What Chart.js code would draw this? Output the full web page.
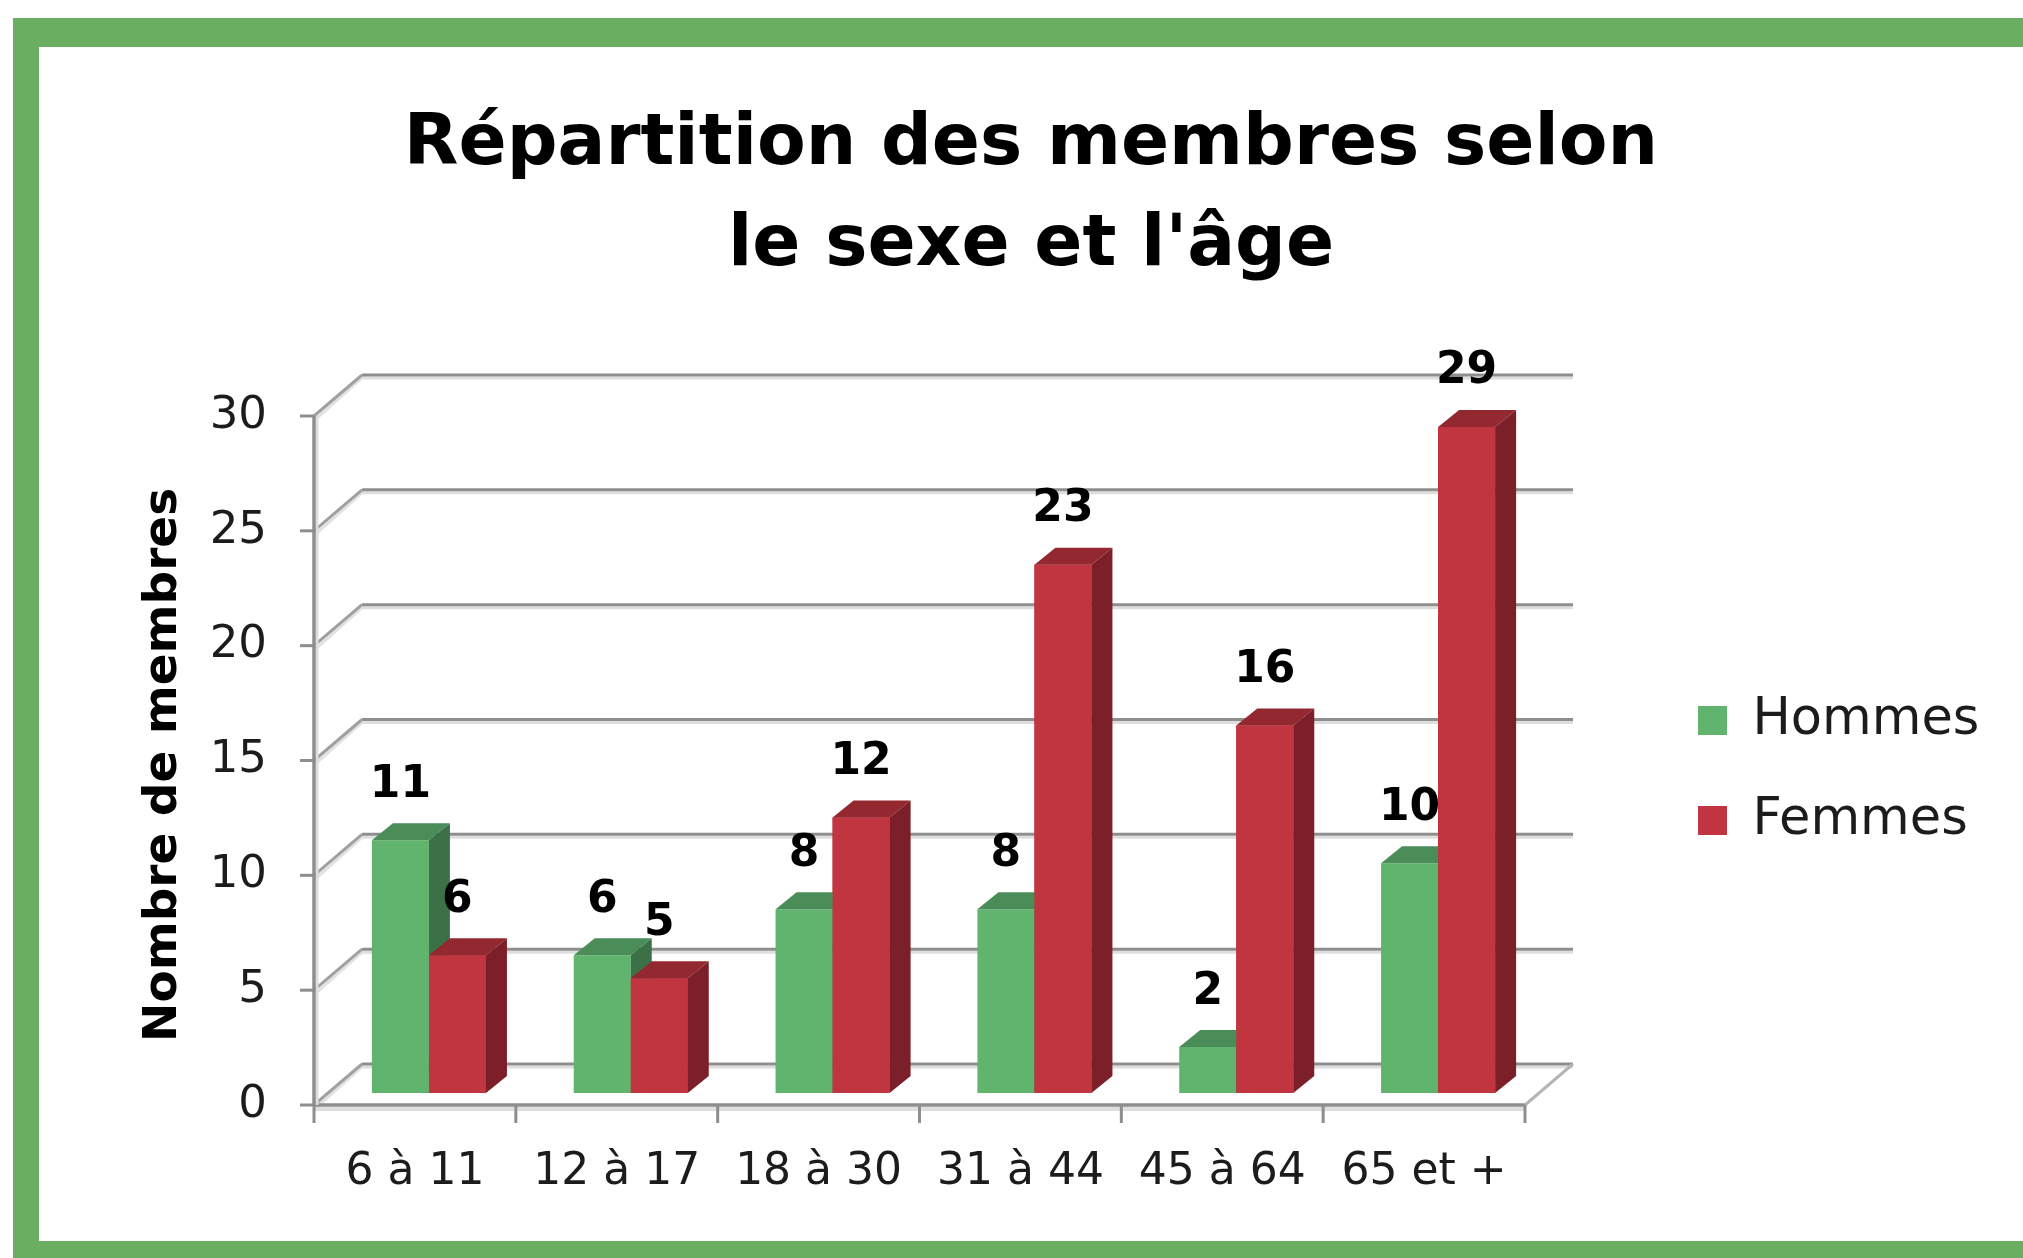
<!DOCTYPE html>
<html><head><meta charset="utf-8">
<script src="https://cdn.jsdelivr.net/npm/chart.js@4.4.0/dist/chart.umd.min.js"></script>
<style>
html,body{margin:0;padding:0;background:#fff;overflow:hidden;width:2023px;height:1258px;}
#frame{position:absolute;left:13px;top:18px;width:2100px;height:1300px;background:#69ae61;}
#box{position:absolute;left:39px;top:47px;width:1984px;height:1194px;background:#fff;}
</style></head><body>
<div id="frame"></div>
<div id="box"><canvas id="c"></canvas></div>
<script>
const categories = ['6 à 11', '12 à 17', '18 à 30', '31 à 44', '45 à 64', '65 et +'];
const hommes = [11, 6, 8, 8, 2, 10];
const femmes = [6, 5, 12, 23, 16, 29];
const seriesNames = ['Hommes', 'Femmes'];
const yTicks = [0, 5, 10, 15, 20, 25, 30];
const titleLines = ['Répartition des membres selon', "le sexe et l'âge"];
const yTitle = 'Nombre de membres';

const COL = {
  gFront: '#60b46e', gSide: '#3c7147', gTop: '#4a8d58',
  rFront: '#c0353f', rSide: '#7c1f28', rTop: '#932830'
};
const BD = {dx: 21, dy: -17};      // bar depth
const FRONT = {dx: -14, dy: 12};   // front plane offset from bar plane
const WALL = {dx: 48, dy: -41};    // depth of the back wall

Chart.defaults.font.family = '"DejaVu Sans", sans-serif';
Chart.defaults.color = '#1c1c1c';

const W = 1984, H = 1194;
const CA = {left: 289, right: 1500, top: 357, bottom: 1046};
const LEG_FONT = 51, LEG_PAD = 49, LEG_BOX = 29, SPACER = 110;
const mctx = document.createElement('canvas').getContext('2d');
mctx.font = LEG_FONT + 'px "DejaVu Sans"';
const tw = Math.max(...seriesNames.map(s => mctx.measureText(s).width));
const legendW = LEG_PAD + LEG_BOX + LEG_FONT / 2 + tw + 10;
const PAD = Math.max(0, W - CA.right - SPACER - legendW);
const TITLE_LH = 101, TITLE_PT = 48;
const YT_FONT = 47;

const threeD = {
  id: 'threeD',
  beforeDatasetsDraw(chart) {
    const {ctx, chartArea: a, scales: {y}} = chart;
    const xL = a.left + FRONT.dx, xR = a.right + FRONT.dx;
    const line = (x1, y1, x2, y2, c, w) => {
      ctx.strokeStyle = c; ctx.lineWidth = w;
      ctx.beginPath(); ctx.moveTo(x1, y1); ctx.lineTo(x2, y2); ctx.stroke();
    };
    ctx.save();
    yTicks.forEach(v => {
      const yf = y.getPixelForValue(v) + FRONT.dy;
      const yb = yf + WALL.dy;
      line(xL + WALL.dx, yb + 3, xR + WALL.dx, yb + 3, '#dedede', 3);
      line(xL + 2, yf + 3, xL + WALL.dx, yb + 3, '#e2e2e2', 3);
      line(xL + WALL.dx, yb, xR + WALL.dx, yb, '#8e8e8e', 3);
      line(xL, yf, xL + WALL.dx, yb, '#a0a0a0', 3);
      line(xL - 14, yf, xL, yf, '#8e8e8e', 3);
    });
    const y0 = y.getPixelForValue(0) + FRONT.dy;
    const y30 = y.getPixelForValue(30) + FRONT.dy;
    line(xL, y0 + 4, xR, y0 + 4, '#dedede', 4);
    line(xL, y0, xR, y0, '#8e8e8e', 3.5);
    line(xR, y0, xR + WALL.dx, y0 + WALL.dy, '#b5b5b5', 3);
    line(xL + 3, y30, xL + 3, y0, '#dedede', 3);
    line(xL, y30, xL, y0, '#8e8e8e', 3.5);
    const n = categories.length, cw = (xR - xL) / n;
    for (let i = 0; i <= n; i++) line(xL + i * cw, y0, xL + i * cw, y0 + 18, '#8e8e8e', 3);
    ctx.restore();
  },
  afterDatasetsDraw(chart) {
    const {ctx} = chart;
    const m0 = chart.getDatasetMeta(0), m1 = chart.getDatasetMeta(1);
    const poly = (pts, c) => {
      ctx.fillStyle = c; ctx.beginPath();
      pts.forEach((p, i) => i ? ctx.lineTo(p[0], p[1]) : ctx.moveTo(p[0], p[1]));
      ctx.closePath(); ctx.fill();
    };
    const faces = (bar, side, top) => {
      const {x, y, base, width} = bar.getProps(['x', 'y', 'base', 'width'], true);
      const xl = x - width / 2, xr = x + width / 2;
      poly([[xl, y], [xr, y], [xr + BD.dx, y + BD.dy], [xl + BD.dx, y + BD.dy]], top);
      poly([[xr, y], [xr + BD.dx, y + BD.dy], [xr + BD.dx, base + BD.dy], [xr, base]], side);
    };
    ctx.save();
    for (let i = 0; i < categories.length; i++) {
      faces(m0.data[i], COL.gSide, COL.gTop);
      const r = m1.data[i].getProps(['x', 'y', 'base', 'width'], true);
      ctx.fillStyle = COL.rFront;
      ctx.fillRect(r.x - r.width / 2, r.y, r.width, r.base - r.y);
      faces(m1.data[i], COL.rSide, COL.rTop);
    }
    ctx.font = 'bold 44px "DejaVu Sans"';
    ctx.textAlign = 'center'; ctx.textBaseline = 'middle'; ctx.fillStyle = '#000';
    [m0, m1].forEach((m, d) => {
      m.data.forEach((bar, i) => {
        const p = bar.getProps(['x', 'y'], true);
        ctx.fillText(String(chart.data.datasets[d].data[i]), p.x, p.y - 55);
      });
    });
    ctx.restore();
  }
};

new Chart(document.getElementById('c'), {
  type: 'bar',
  data: {
    labels: categories,
    datasets: [
      {label: seriesNames[0], data: hommes, backgroundColor: COL.gFront, borderWidth: 0},
      {label: seriesNames[1], data: femmes, backgroundColor: COL.rFront, borderWidth: 0}
    ]
  },
  options: {
    responsive: true,
    maintainAspectRatio: false,
    animation: false,
    events: [],
    layout: {padding: {left: PAD, right: PAD, top: 0, bottom: 0}},
    datasets: {bar: {barPercentage: 1, categoryPercentage: 0.565}},
    plugins: {
      title: {
        display: true,
        text: titleLines,
        color: '#000',
        font: {size: 71, weight: 'bold', lineHeight: TITLE_LH / 71},
        padding: {top: TITLE_PT, bottom: CA.top - TITLE_PT - 2 * TITLE_LH}
      },
      legend: {
        display: true,
        position: 'right',
        fullSize: false,
        align: 'center',
        title: {display: true, text: ' ', font: {size: 10}, padding: {top: 16, bottom: 16}},
        labels: {
          boxWidth: LEG_BOX, boxHeight: LEG_BOX, padding: LEG_PAD,
          font: {size: LEG_FONT}, color: '#1c1c1c',
          sort: (a, b) => a.datasetIndex - b.datasetIndex
        }
      },
      tooltip: {enabled: false}
    },
    scales: {
      x: {
        grid: {display: false, drawTicks: false},
        border: {display: false},
        ticks: {font: {size: 44}, color: '#1c1c1c', padding: 53, labelOffset: FRONT.dx, maxRotation: 0, autoSkip: false},
        afterFit(s) { s.height = H - CA.bottom; }
      },
      y: {
        min: 0, max: 30,
        afterBuildTicks(s) { s.ticks = yTicks.map(v => ({value: v})); },
        grid: {display: false, drawTicks: false},
        border: {display: false},
        ticks: {font: {size: 45}, color: '#1c1c1c', padding: 61, labelOffset: FRONT.dy},
        title: {
          display: true, text: yTitle + '  ', color: '#000',
          font: {size: YT_FONT, weight: 'bold'},
          padding: {top: 125 - PAD - YT_FONT * 1.2 / 2, bottom: 0}
        },
        afterFit(s) { s.width = CA.left - PAD; }
      },
      spacer: {
        type: 'linear', position: 'right', display: false,
        grid: {display: false, drawTicks: false},
        border: {display: false},
        ticks: {display: false},
        afterFit(s) { s.width = SPACER; }
      }
    }
  },
  plugins: [threeD]
});
</script>
</body></html>
